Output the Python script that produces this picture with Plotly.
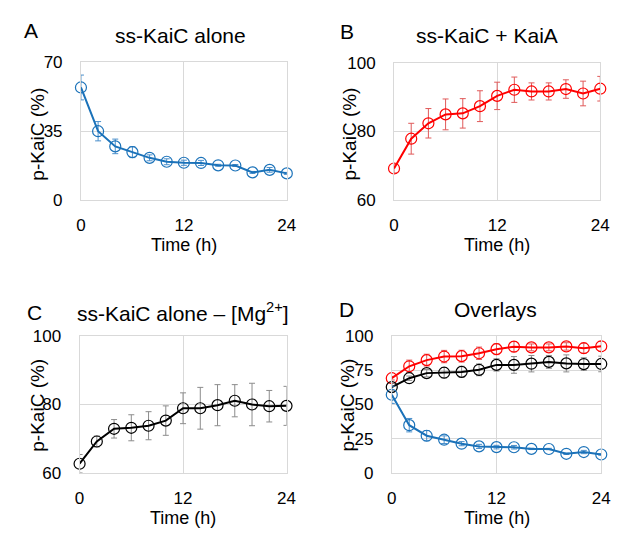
import plotly.graph_objects as go

# Time points (h)
time_h = [0, 2, 4, 6, 8, 10, 12, 14, 16, 18, 20, 22, 24]

# ss-KaiC alone
alone = [57.1, 34.9, 27.2, 24.3, 21.4, 19.4, 18.9, 18.8, 17.6, 17.5, 14.0, 15.3, 13.5]
alone_err = [6.3, 4.9, 3.7, 2.8, 1.5, 1.5, 1.3, 1.3, 0.5, 0.5, 0.5, 1.2, 0.5]

# ss-KaiC + KaiA
kaia = [69.2, 77.9, 82.4, 85.0, 85.3, 87.4, 90.4, 92.2, 91.7, 91.7, 92.4, 91.1, 92.5]
kaia_err = [1.3, 4.5, 4.3, 4.5, 4.3, 4.5, 4.0, 3.7, 2.5, 2.5, 2.7, 3.6, 3.6]

# ss-KaiC alone - [Mg2+]
nomg = [62.7, 69.2, 72.9, 73.2, 73.8, 75.3, 78.9, 78.9, 79.8, 81.1, 80.0, 79.5, 79.6]
nomg_err = [2.7, 1.6, 2.7, 3.8, 4.1, 4.3, 4.5, 6.1, 6.0, 4.7, 6.2, 4.6, 5.7]

x_ticks = [0, 12, 24]
y_ticks_a = [0, 35, 70]
y_ticks_b = [60, 80, 100]
y_ticks_c = [60, 80, 100]
y_ticks_d = [0, 25, 50, 75, 100]

BLUE = "#1b72b9"
RED = "#ff0000"
BLACK = "#000000"
ERR = {BLUE: "#4a8fcb", RED: "#e05a5a", BLACK: "#8c8c8c"}
FONT = "Liberation Sans, Arial, sans-serif"
W, H = 621, 537


def series(y, err, color, xa, ya):
    return go.Scatter(
        x=time_h, y=y, xaxis=xa, yaxis=ya, mode="lines+markers",
        line=dict(color=color, width=2),
        marker=dict(symbol="circle-open", size=11, color=color, line=dict(width=1.2, color=color)),
        error_y=dict(type="data", array=err, color=ERR[color], thickness=1, width=3),
        cliponaxis=False, showlegend=False,
    )


fig = go.Figure()
fig.add_trace(series(alone, alone_err, BLUE, "x", "y"))
fig.add_trace(series(kaia, kaia_err, RED, "x2", "y2"))
fig.add_trace(series(nomg, nomg_err, BLACK, "x3", "y3"))
fig.add_trace(series(kaia, kaia_err, RED, "x4", "y4"))
fig.add_trace(series(nomg, nomg_err, BLACK, "x4", "y4"))
fig.add_trace(series(alone, alone_err, BLUE, "x4", "y4"))

# plot areas in pixels: (left, right, top, bottom)
boxes = {
    "": (77.7, 288.3, 55, 198),
    "2": (398, 609, 56, 198),
    "3": (76.3, 288, 339, 481),
    "4": (395.7, 610, 339, 481),
}
yranges = {"": ([0, 70], y_ticks_a), "2": ([60, 100], y_ticks_b),
           "3": ([60, 100], y_ticks_c), "4": ([0, 100], y_ticks_d)}

axis_common = dict(
    showline=True, mirror=True, linecolor="#d9d9d9", linewidth=1,
    showgrid=True, gridcolor="#d9d9d9", gridwidth=1, zeroline=False,
    tickfont=dict(family=FONT, size=17, color="#000000"),
    ticks="outside", tickcolor="rgba(0,0,0,0)",
)

layout = {}
for k, (l, r, t, b) in boxes.items():
    layout["xaxis" + k] = dict(
        axis_common, domain=[l / W, r / W], anchor="y" + k, range=[0, 24],
        tickvals=x_ticks, ticklen=10,
    )
    yr, yt = yranges[k]
    layout["yaxis" + k] = dict(
        axis_common, domain=[1 - b / H, 1 - t / H], anchor="x" + k, range=yr,
        tickvals=yt, ticklen=14,
    )

fig.update_layout(
    width=W, height=H, margin=dict(l=0, r=0, t=0, b=0),
    paper_bgcolor="white", plot_bgcolor="white",
    font=dict(family=FONT, color="#000000"),
    **layout,
)

# panel letters, titles and axis titles, placed in pixel positions
texts = [
    ("A", 27, 22, 21, 0), ("ss-KaiC alone", 180, 27, 21, 0),
    ("B", 350, 23, 21, 0), ("ss-KaiC + KaiA", 493, 27, 21, 0),
    ("C", 30, 315, 21, 0), ("ss-KaiC alone – [Mg<sup>2+</sup>]", 182, 314, 21, 0),
    ("D", 349, 312, 21, 0), ("Overlays", 502, 312, 21, 0),
    ("Time (h)", 183, 245, 18, 0), ("Time (h)", 503, 245, 18, 0),
    ("Time (h)", 182, 528, 18, 0), ("Time (h)", 503, 528, 18, 0),
    ("p-KaiC (%)", 33, 130, 19, -90), ("p-KaiC (%)", 352, 130, 19, -90),
    ("p-KaiC (%)", 33, 411, 19, -90), ("p-KaiC (%)", 350, 411, 19, -90),
]
for txt, px, py, size, ang in texts:
    fig.add_annotation(
        text=txt, x=px / W, y=1 - py / H, xref="paper", yref="paper",
        showarrow=False, xanchor="center", yanchor="middle", textangle=ang,
        font=dict(family=FONT, size=size, color="#000000"),
    )

fig.write_html("out.html", config={"displayModeBar": False},
               post_script="document.body.style.margin='0';")
